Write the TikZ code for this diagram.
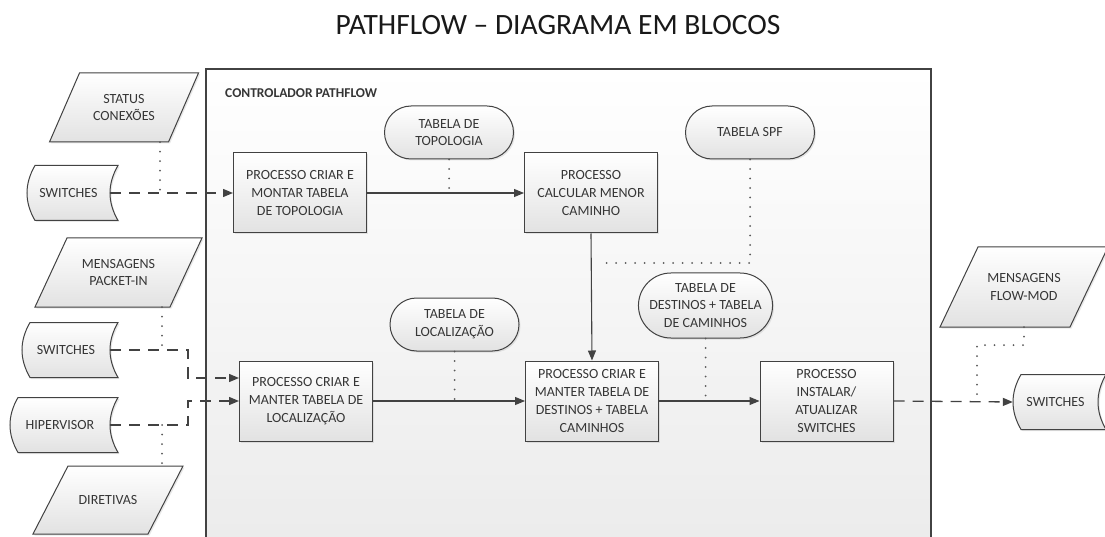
\documentclass[tikz,border=0pt]{standalone}
\usepackage{fontspec}
\setmainfont{Carlito}
\usetikzlibrary{arrows.meta,shapes.misc,shadows,calc}
\definecolor{ln}{HTML}{424242}
\definecolor{tx}{HTML}{363636}
\definecolor{shd}{HTML}{E2E2E2}
\definecolor{bgbot}{HTML}{EBEBEB}
\tikzset{
  base/.style={font=\fontsize{14}{17.8}\selectfont, text=tx, align=center, inner sep=2pt},
  shp/.style={draw=ln, line width=1pt, top color=white, bottom color=shd,
    drop shadow={opacity=0.18, shadow xshift=1.5pt, shadow yshift=-1.5pt}},
  proc/.style={base, shp, rectangle, minimum width=133pt, minimum height=80pt},
  term/.style={base, shp, rounded rectangle, minimum width=133pt, minimum height=53pt},
  arr/.style={draw=ln, line width=1.1pt, -{Triangle[length=10pt,width=8pt]}},
  darr/.style={arr, line width=1.3pt, dash pattern=on 11pt off 8pt},
  dots/.style={draw=gray!70!black, line width=2pt, line cap=round, dash pattern=on 0pt off 9.5pt},
}
% parallelogram: name, x, y, width, height, slant, text
\newcommand\mkpar[7]{%
  \path[shp] ({#2-#4/2+#6/2},{#3-#5/2}) -- ({#2+#4/2+#6/2},{#3-#5/2})
    -- ({#2+#4/2-#6/2},{#3+#5/2}) -- ({#2-#4/2-#6/2},{#3+#5/2}) -- cycle;
  \node[base, minimum width=#4pt, minimum height=#5pt] (#1) at (#2,#3) {#7};
}
% stored data: name, x, y, width (left tip to concave point), text
\newcommand\mkstore[5]{%
  \path[shp] ({#2-#4/2+8},{#3-27.5}) -- ({#2+#4/2+8},{#3-27.5})
    .. controls ({#2+#4/2-2.67},{#3-9.17}) and ({#2+#4/2-2.67},{#3+9.17}) .. ({#2+#4/2+8},{#3+27.5})
    -- ({#2-#4/2+8},{#3+27.5})
    .. controls ({#2-#4/2-2.67},{#3+9.17}) and ({#2-#4/2-2.67},{#3-9.17}) .. cycle;
  \node[base, minimum width=#4pt, minimum height=55pt] (#1) at (#2,#3) {#5};
}
\begin{document}
\begin{tikzpicture}[x=1pt,y=-1pt]
\path[use as bounding box, clip] (0,0) rectangle (1105,537);
\fill[white] (0,0) rectangle (1105,537);
% title
\node[font=\fontsize{29.5}{34}\selectfont, text=black!90] (title) at (558,25) {PATHFLOW – DIAGRAMA EM BLOCOS};
% controller frame
\path[top color=white, bottom color=bgbot] (206,69) rectangle (931,560);
\draw[ln, line width=1.3pt] (206,560) -- (206,69) -- (931,69) -- (931,560);
\node[base, font=\bfseries\fontsize{13.5}{16}\selectfont, anchor=west] (ctl) at (223,93) {CONTROLADOR PATHFLOW};
% left inputs
\mkpar{stat}{124}{107.5}{119}{69}{30}{STATUS\\CONEXÕES}
\mkstore{sw1}{68.5}{193}{83}{SWITCHES}
\mkpar{pin}{118.5}{272.5}{135}{69}{32}{MENSAGENS\\PACKET-IN}
\mkstore{sw2}{66}{350}{88}{SWITCHES}
\mkstore{hip}{60}{425}{100}{HIPERVISOR}
\mkpar{dir}{108}{500}{115}{68}{35}{DIRETIVAS}
% right outputs
\mkpar{fmod}{1024}{287}{130}{80}{38}{MENSAGENS\\FLOW-MOD}
\mkstore{sw3}{1055.5}{402}{85}{SWITCHES}
% processes
\node[proc] (p1) at (300,193) {PROCESSO CRIAR E\\MONTAR TABELA\\DE TOPOLOGIA};
\node[proc] (p2) at (591,193) {PROCESSO\\CALCULAR MENOR\\CAMINHO};
\node[proc] (p3) at (592,401) {PROCESSO CRIAR E\\MANTER TABELA DE\\DESTINOS + TABELA\\CAMINHOS};
\node[proc] (p4) at (306,401) {PROCESSO CRIAR E\\MANTER TABELA DE\\LOCALIZAÇÃO};
\node[proc] (p5) at (826.5,401) {PROCESSO\\INSTALAR/\\ATUALIZAR\\SWITCHES};
% data tables
\node[term] (ttop) at (449,132.5) {TABELA DE\\TOPOLOGIA};
\node[term] (tspf) at (750,132.5) {TABELA SPF};
\node[term] (tloc) at (454.5,324.5) {TABELA DE\\LOCALIZAÇÃO};
\node[term, minimum height=65pt] (tdest) at (705.5,305.5) {TABELA DE\\DESTINOS + TABELA\\DE CAMINHOS};
% connectors
\draw[darr] (sw1.east) -- (p1.west);
\draw[darr] (sw2.east) -| (188,378) -- (p4.west |- 0,378);
\draw[darr] (hip.east) -| (188,401) -- (p4.west);
\draw[arr] (p1.east) -- (p2.west);
\draw[arr] (p2.south) -- (p3.north);
\draw[arr] (p4.east) -- (p3.west);
\draw[arr] (p3.east) -- (p5.west);
\draw[darr] (p5.east) -- (sw3.west);
% dotted associations
\coordinate (d1) at (160,193);
\draw[dots] (stat.south -| d1) -- (d1);
\coordinate (d2) at (162,350);
\draw[dots] (pin.south -| d2) -- (d2);
\coordinate (d3) at (162,425);
\draw[dots] (d3) -- (dir.north -| d3);
\draw[dots] (ttop.south) -- (ttop.south |- p1.east);
\coordinate (d5) at (600,263);
\draw[dots] (tspf.south) |- (d5);
\draw[dots] (tloc.south) -- (tloc.south |- p4.east);
\draw[dots] (tdest.south) -- (tdest.south |- p3.east);
\coordinate (d7) at (977,401);
\draw[dots] (fmod.south) -- ++(0,18) -| (d7);
\end{tikzpicture}
\end{document}
